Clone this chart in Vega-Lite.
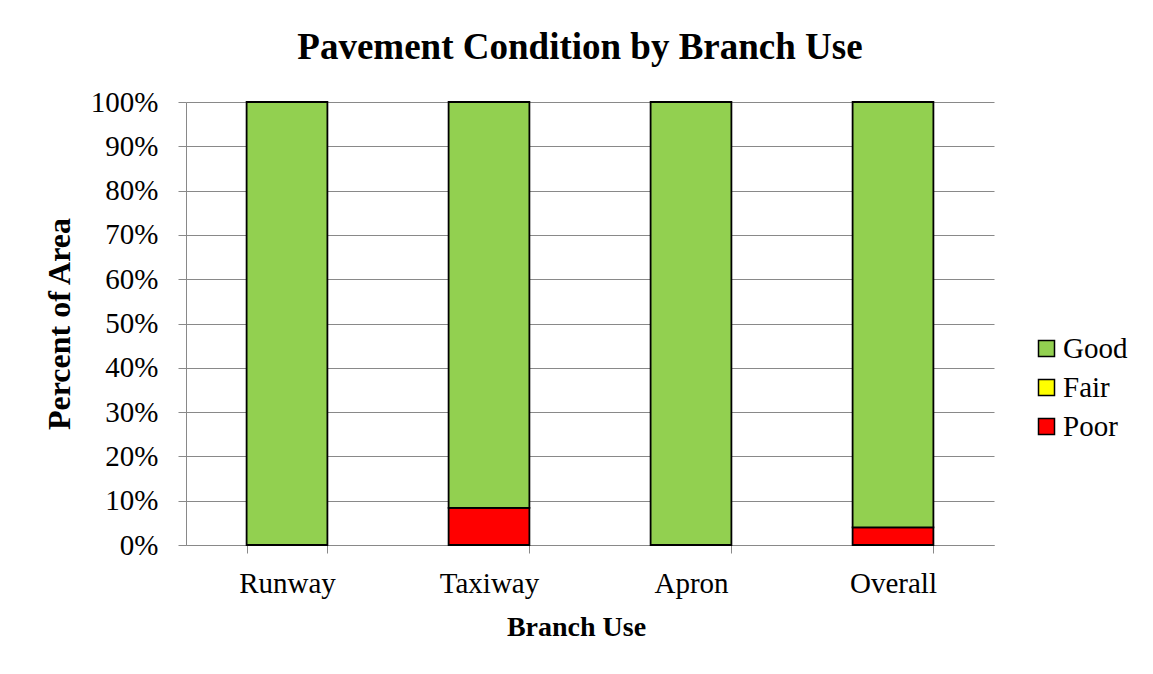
{
  "$schema": "https://vega.github.io/schema/vega-lite/v6.json",
  "width": 808,
  "height": 443,
  "autosize": "none",
  "padding": {"left": 186, "top": 102, "right": 159, "bottom": 129},
  "background": "white",
  "title": {
    "text": "Pavement Condition by Branch Use",
    "font": "Liberation Serif",
    "fontSize": 37,
    "fontWeight": "bold",
    "color": "black",
    "anchor": "middle",
    "dx": -10,
    "offset": 21
  },
  "data": {
    "values": [
      {"Branch": "Runway", "Condition": "Good", "Share": 1.0},
      {"Branch": "Taxiway", "Condition": "Poor", "Share": 0.084},
      {"Branch": "Taxiway", "Condition": "Good", "Share": 0.916},
      {"Branch": "Apron", "Condition": "Good", "Share": 1.0},
      {"Branch": "Overall", "Condition": "Poor", "Share": 0.04},
      {"Branch": "Overall", "Condition": "Good", "Share": 0.96}
    ]
  },
  "mark": {"type": "bar", "stroke": "black", "strokeWidth": 1.8},
  "encoding": {
    "x": {
      "field": "Branch",
      "type": "nominal",
      "sort": ["Runway", "Taxiway", "Apron", "Overall"],
      "scale": {"paddingInner": 0.6, "paddingOuter": 0.3},
      "axis": {
        "title": "Branch Use",
        "labelAngle": 0,
        "tickBand": "extent",
        "tickSize": 8,
        "tickColor": "#898989",
        "domainColor": "#898989",
        "labelFont": "Liberation Serif",
        "labelFontSize": 29,
        "labelColor": "black",
        "labelPadding": 16,
        "titleFont": "Liberation Serif",
        "titleFontSize": 28,
        "titleFontWeight": "bold",
        "titleColor": "black",
        "titlePadding": 15,
        "titleX": 390
      }
    },
    "y": {
      "field": "Share",
      "type": "quantitative",
      "stack": "zero",
      "scale": {"domain": [0, 1]},
      "axis": {
        "title": "Percent of Area",
        "format": ".0%",
        "values": [0, 0.1, 0.2, 0.3, 0.4, 0.5, 0.6, 0.7, 0.8, 0.9, 1.0],
        "tickSize": 8,
        "tickColor": "#898989",
        "domainColor": "#898989",
        "gridColor": "#898989",
        "gridWidth": 1,
        "labelFont": "Liberation Serif",
        "labelFontSize": 29,
        "labelColor": "black",
        "labelPadding": 20,
        "titleFont": "Liberation Serif",
        "titleFontSize": 32,
        "titleFontWeight": "bold",
        "titleColor": "black",
        "titlePadding": 14
      }
    },
    "color": {
      "field": "Condition",
      "type": "nominal",
      "scale": {"domain": ["Good", "Fair", "Poor"], "range": ["#92D050", "#FFFF00", "#FF0000"]},
      "legend": {
        "title": null,
        "orient": "none",
        "legendX": 846,
        "legendY": 232,
        "symbolType": "square",
        "symbolSize": 256,
        "symbolStrokeColor": "black",
        "symbolStrokeWidth": 1.5,
        "symbolOpacity": 1,
        "labelFont": "Liberation Serif",
        "labelFontSize": 29,
        "labelColor": "black",
        "labelOffset": 2,
        "rowPadding": 9
      }
    },
    "order": {"field": "Condition", "sort": "descending"}
  },
  "config": {
    "view": {"stroke": null},
    "axisX": {"grid": false}
  }
}
